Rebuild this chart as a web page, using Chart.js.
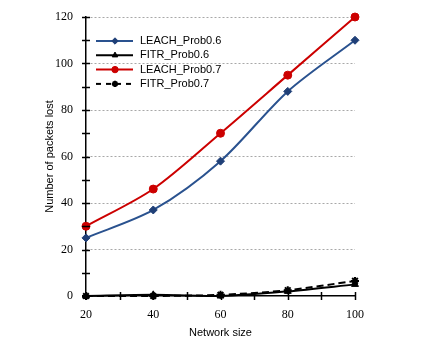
<!DOCTYPE html>
<html>
<head>
<meta charset="utf-8">
<script src="https://cdn.jsdelivr.net/npm/chart.js@4.4.1/dist/chart.umd.min.js"></script>
<style>
  html, body { margin: 0; padding: 0; background: #fff; }
</style>
</head>
<body>
<canvas id="chart" width="421" height="350"></canvas>
<script>
// values
const networkSizes = [20, 40, 60, 80, 100];
const leachProb06 = [25, 37, 58, 88, 110];
const fitrProb06 = [0, 0.5, 0, 2, 5];
const leachProb07 = [30, 46, 70, 95, 120];
const fitrProb07 = [0, 0, 0.5, 2.5, 6.5];
const seriesNames = ['LEACH_Prob0.6', 'FITR_Prob0.6', 'LEACH_Prob0.7', 'FITR_Prob0.7'];
const xLabelEvery = 20;
const yLabelEvery = 20;

const toPoints = (vals) => networkSizes.map((x, i) => ({ x, y: vals[i] }));

// ticks that cross the axis line, like the original (major + minor)
const crossTicks = {
  id: 'crossTicks',
  afterDatasetsDraw(chart) {
    const { ctx, chartArea, scales: { x, y } } = chart;
    ctx.save();
    ctx.strokeStyle = '#000';
    ctx.lineWidth = 1.5;
    x.ticks.forEach(t => {
      const px = Math.round(x.getPixelForValue(t.value)) + 0.5;
      ctx.beginPath();
      ctx.moveTo(px, chartArea.bottom - 4);
      ctx.lineTo(px, chartArea.bottom + 4);
      ctx.stroke();
    });
    y.ticks.forEach(t => {
      const py = Math.round(y.getPixelForValue(t.value)) + 0.5;
      ctx.beginPath();
      ctx.moveTo(chartArea.left - 4, py);
      ctx.lineTo(chartArea.left + 4, py);
      ctx.stroke();
    });
    ctx.restore();
  }
};

// legend with a line sample and a smaller marker in the middle
const lineLegend = {
  id: 'lineLegend',
  afterDraw(chart) {
    const { ctx, chartArea } = chart;
    const x0 = chartArea.left + 10;
    const y0 = chartArea.top + 24;
    ctx.save();
    chart.data.datasets.forEach((ds, i) => {
      const y = y0 + i * 14.3;
      ctx.strokeStyle = ds.borderColor;
      ctx.lineWidth = ds.borderWidth;
      ctx.setLineDash(ds.borderDash ? [5, 5] : []);
      ctx.beginPath();
      ctx.moveTo(x0, y);
      ctx.lineTo(x0 + 37, y);
      ctx.stroke();
      ctx.setLineDash([]);
      ctx.fillStyle = ds.pointBackgroundColor;
      ctx.strokeStyle = ds.pointBorderColor;
      ctx.lineWidth = ds.pointBorderWidth;
      Chart.helpers.drawPoint(ctx, {
        pointStyle: ds.pointStyle,
        radius: ds.pointRadius * 0.8,
        borderWidth: ds.pointBorderWidth,
        rotation: 0
      }, x0 + 19, y);
      ctx.fillStyle = '#000';
      ctx.font = '11px "Liberation Sans", Arial, sans-serif';
      ctx.textBaseline = 'middle';
      ctx.fillText(ds.label, x0 + 44, y);
    });
    ctx.restore();
  }
};

new Chart(document.getElementById('chart'), {
  type: 'line',
  data: {
    datasets: [
      {
        label: seriesNames[0],
        data: toPoints(leachProb06),
        borderColor: '#2a528f',
        borderWidth: 2,
        pointStyle: 'rectRot',
        pointRadius: 4,
        pointBackgroundColor: '#1f3f77',
        pointBorderColor: '#1f3f77',
        pointBorderWidth: 1,
        tension: 0.3
      },
      {
        label: seriesNames[1],
        data: toPoints(fitrProb06),
        borderColor: '#000',
        borderWidth: 2,
        pointStyle: 'triangle',
        pointRadius: 4,
        pointBackgroundColor: '#000',
        pointBorderColor: '#000',
        pointBorderWidth: 1,
        tension: 0.3
      },
      {
        label: seriesNames[2],
        data: toPoints(leachProb07),
        borderColor: '#cc0000',
        borderWidth: 2,
        pointStyle: 'circle',
        pointRadius: 4,
        pointBackgroundColor: '#cc0000',
        pointBorderColor: '#cc0000',
        pointBorderWidth: 1,
        tension: 0.3
      },
      {
        label: seriesNames[3],
        data: toPoints(fitrProb07),
        borderColor: '#000',
        borderWidth: 2,
        borderDash: [7, 4],
        pointStyle: 'star',
        pointRadius: 4,
        pointBackgroundColor: '#000',
        pointBorderColor: '#000',
        pointBorderWidth: 2,
        tension: 0.3
      }
    ]
  },
  options: {
    responsive: false,
    devicePixelRatio: 1,
    animation: false,
    clip: false,
    layout: {
      padding: { left: 36, right: 66, top: 17, bottom: 0 }
    },
    plugins: {
      legend: { display: false },
      tooltip: { enabled: false }
    },
    scales: {
      x: {
        type: 'linear',
        min: 20,
        max: 100,
        afterFit: (s) => { s.height = 54; s.paddingLeft = 0; s.paddingRight = 0; },
        ticks: {
          stepSize: 10,
          autoSkip: false,
          maxRotation: 0,
          padding: 12,
          color: '#000',
          font: { family: '"Liberation Serif", "Times New Roman", serif', size: 12 },
          callback: (v) => (v % xLabelEvery === 0 ? v : '')
        },
        grid: { display: false, drawTicks: false },
        border: { display: true, color: '#000', width: 1.5 },
        title: {
          display: true,
          text: 'Network size',
          color: '#000',
          font: { family: '"Liberation Sans", Arial, sans-serif', size: 11 },
          padding: { top: 0, bottom: 10 }
        }
      },
      y: {
        min: 0,
        max: 120,
        afterFit: (s) => { s.width = 50; s.paddingTop = 0; s.paddingBottom = 0; },
        ticks: {
          stepSize: 10,
          autoSkip: false,
          padding: 13,
          color: '#000',
          font: { family: '"Liberation Serif", "Times New Roman", serif', size: 12 },
          callback: (v) => (v % yLabelEvery === 0 ? v : '')
        },
        grid: {
          drawTicks: false,
          lineWidth: 1,
          color: (c) => (c.tick && c.tick.value > 0 && c.tick.value % yLabelEvery === 0 ? '#a8a8a8' : 'rgba(0,0,0,0)')
        },
        border: { display: true, color: '#000', width: 1.5, dash: [2, 2] },
        title: {
          display: true,
          text: 'Number of packets lost',
          color: '#000',
          font: { family: '"Liberation Sans", Arial, sans-serif', size: 11 },
          padding: { top: 7, bottom: 0 }
        }
      }
    }
  },
  plugins: [crossTicks, lineLegend]
});
</script>
</body>
</html>
